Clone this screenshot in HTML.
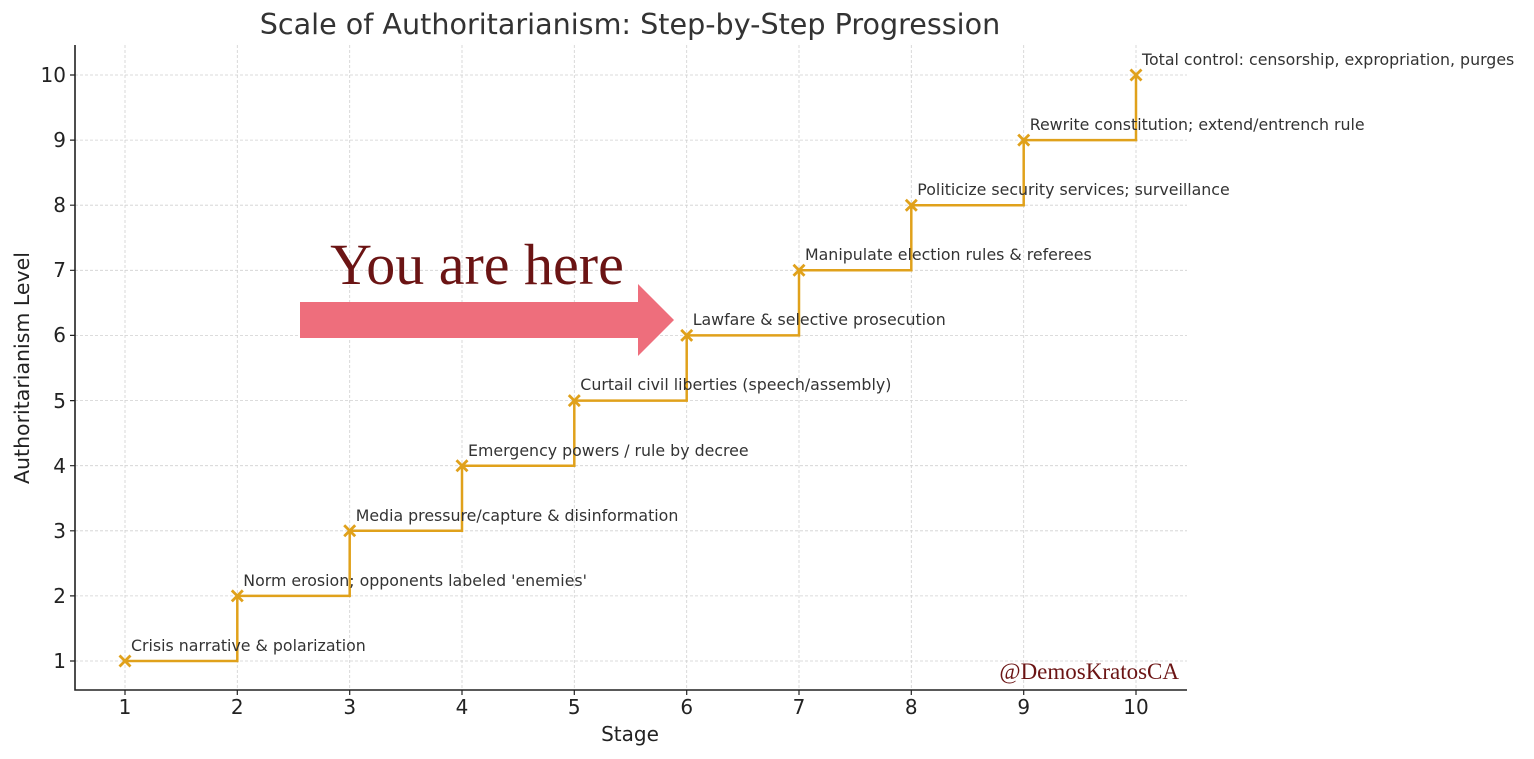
<!DOCTYPE html>
<html><head><meta charset="utf-8"><style>body{margin:0;background:#fff}svg{display:block}</style></head><body>
<svg width="1534" height="759" xmlns="http://www.w3.org/2000/svg" font-family="DejaVu Sans, Liberation Sans, sans-serif">
<rect width="1534" height="759" fill="#fff"/>
<g stroke="#d0d0d0" stroke-width="0.8" stroke-dasharray="3,2">
<line x1="125" y1="45" x2="125" y2="690"/><line x1="237.3" y1="45" x2="237.3" y2="690"/><line x1="349.7" y1="45" x2="349.7" y2="690"/><line x1="462" y1="45" x2="462" y2="690"/><line x1="574.3" y1="45" x2="574.3" y2="690"/><line x1="686.7" y1="45" x2="686.7" y2="690"/><line x1="799" y1="45" x2="799" y2="690"/><line x1="911.3" y1="45" x2="911.3" y2="690"/><line x1="1023.7" y1="45" x2="1023.7" y2="690"/><line x1="1136" y1="45" x2="1136" y2="690"/>
<line x1="75" y1="661" x2="1187" y2="661"/><line x1="75" y1="595.9" x2="1187" y2="595.9"/><line x1="75" y1="530.8" x2="1187" y2="530.8"/><line x1="75" y1="465.7" x2="1187" y2="465.7"/><line x1="75" y1="400.6" x2="1187" y2="400.6"/><line x1="75" y1="335.4" x2="1187" y2="335.4"/><line x1="75" y1="270.3" x2="1187" y2="270.3"/><line x1="75" y1="205.2" x2="1187" y2="205.2"/><line x1="75" y1="140.1" x2="1187" y2="140.1"/><line x1="75" y1="75" x2="1187" y2="75"/>
</g>
<g stroke="#222" stroke-width="1.6" fill="none">
<path d="M75 45V690H1187"/>
</g>
<g stroke="#222" stroke-width="1.2">
<path d="M125 690v5M237.3 690v5M349.7 690v5M462 690v5M574.3 690v5M686.7 690v5M799 690v5M911.3 690v5M1023.7 690v5M1136 690v5"/>
<path d="M70 661h5M70 595.9h5M70 530.8h5M70 465.7h5M70 400.6h5M70 335.4h5M70 270.3h5M70 205.2h5M70 140.1h5M70 75h5"/>
</g>
<g font-size="20" fill="#222" text-anchor="middle">
<text x="125" y="714">1</text><text x="237.3" y="714">2</text><text x="349.7" y="714">3</text><text x="462" y="714">4</text><text x="574.3" y="714">5</text><text x="686.7" y="714">6</text><text x="799" y="714">7</text><text x="911.3" y="714">8</text><text x="1023.7" y="714">9</text><text x="1136" y="714">10</text>
</g>
<g font-size="20" fill="#222" text-anchor="end">
<text x="66" y="668">1</text><text x="66" y="603">2</text><text x="66" y="538">3</text><text x="66" y="473">4</text><text x="66" y="408">5</text><text x="66" y="342">6</text><text x="66" y="277">7</text><text x="66" y="212">8</text><text x="66" y="147">9</text><text x="66" y="82">10</text>
</g>
<text x="630" y="741" font-size="20" fill="#222" text-anchor="middle">Stage</text>
<text transform="translate(29,368) rotate(-90)" font-size="20.5" fill="#222" text-anchor="middle">Authoritarianism Level</text>
<text x="630" y="34" font-size="28.6" fill="#333" text-anchor="middle">Scale of Authoritarianism: Step-by-Step Progression</text>
<path d="M125 661H237.3V595.9H349.7V530.8H462V465.7H574.3V400.6H686.7V335.4H799V270.3H911.3V205.2H1023.7V140.1H1136V75" stroke="#e0a11b" stroke-width="2.5" fill="none"/>
<g stroke="#e0a11b" stroke-width="2.8">
<path d="M119.5 655.5l11 11M130.5 655.5l-11 11"/>
<path d="M231.8 590.4l11 11M242.8 590.4l-11 11"/>
<path d="M344.2 525.3l11 11M355.2 525.3l-11 11"/>
<path d="M456.5 460.2l11 11M467.5 460.2l-11 11"/>
<path d="M568.8 395.1l11 11M579.8 395.1l-11 11"/>
<path d="M681.2 329.9l11 11M692.2 329.9l-11 11"/>
<path d="M793.5 264.8l11 11M804.5 264.8l-11 11"/>
<path d="M905.8 199.7l11 11M916.8 199.7l-11 11"/>
<path d="M1018.2 134.6l11 11M1029.2 134.6l-11 11"/>
<path d="M1130.5 69.5l11 11M1141.5 69.5l-11 11"/>
</g>
<g font-size="15.8" fill="#333">
<text x="131" y="651">Crisis narrative &amp; polarization</text>
<text x="243.3" y="586">Norm erosion; opponents labeled 'enemies'</text>
<text x="355.7" y="521">Media pressure/capture &amp; disinformation</text>
<text x="468" y="456">Emergency powers / rule by decree</text>
<text x="580.3" y="390">Curtail civil liberties (speech/assembly)</text>
<text x="692.7" y="325">Lawfare &amp; selective prosecution</text>
<text x="805" y="260">Manipulate election rules &amp; referees</text>
<text x="917.3" y="195">Politicize security services; surveillance</text>
<text x="1029.7" y="130">Rewrite constitution; extend/entrench rule</text>
<text x="1142" y="65">Total control: censorship, expropriation, purges</text>
</g>
<path d="M300 302H638V284L674 320L638 356V338H300Z" fill="#ee6e7c"/>
<text x="477" y="284" font-family="Liberation Serif, serif" font-size="58" fill="#6b1414" text-anchor="middle">You are here</text>
<text x="1179" y="679" font-family="Liberation Serif, serif" font-size="23" fill="#6b1414" text-anchor="end">@DemosKratosCA</text>
</svg>
</body></html>
